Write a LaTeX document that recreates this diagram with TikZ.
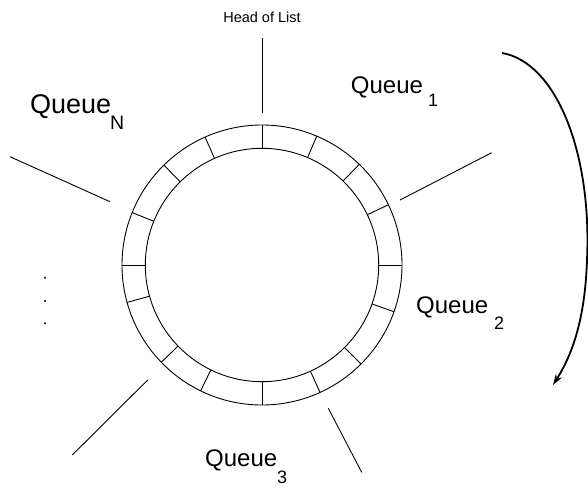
\documentclass[tikz,border=0pt]{standalone}
\usepackage{fontspec}
\setmainfont{Liberation Sans}
\usetikzlibrary{arrows.meta}
\begin{document}
\begin{tikzpicture}[x=1pt,y=-1pt,
  thin line/.style={line width=0.9pt,black},
  lbl/.style={inner sep=0pt,anchor=base west,font=\fontsize{24}{24}\selectfont},
  sublbl/.style={inner sep=0pt,anchor=base west,font=\fontsize{18}{18}\selectfont},
  headlbl/.style={inner sep=0pt,anchor=base,font=\fontsize{14.5}{14.5}\selectfont}]
\useasboundingbox (0,0) rectangle (588,487);
\coordinate (c) at (262,265);
% ring
\draw[thin line] (c) circle[radius=140pt];
\draw[thin line] (c) circle[radius=116.7pt];
\begin{scope}[shift={(c)}]
\foreach \a in {0,25.5,46,67,90,114,134.5,158,180,195.5,224,244,270,294.5,315,340.5}
  \draw[thin line] (\a:116.7pt) -- (\a:140pt);
\end{scope}
% spokes
\coordinate (t1) at (262,38);   \coordinate (t2) at (262,113);
\coordinate (ur1) at (400,200); \coordinate (ur2) at (491.7,152.7);
\coordinate (ul1) at (10,156.7);\coordinate (ul2) at (110,201.7);
\coordinate (ll1) at (147.7,380);\coordinate (ll2) at (72.3,455);
\coordinate (lr1) at (328.3,408.3);\coordinate (lr2) at (361.7,472.3);
\draw[thin line] (t1) -- (t2);
\draw[thin line] (ur1) -- (ur2);
\draw[thin line] (ul1) -- (ul2);
\draw[thin line] (ll1) -- (ll2);
\draw[thin line] (lr1) -- (lr2);
% dots
\foreach \y [count=\i] in {277.7,301,323.3}
  \fill (45,\y) circle[radius=1.1pt];
% labels
\node[headlbl] (head) at (262,22.7) {Head of List};
\node[lbl] (q1) at (350.7,93) {Queue};
\node[sublbl] (q1s) at (428,106) {1};
\node[lbl,font=\fontsize{27}{27}\selectfont] (qn) at (30,113.5) {Queue};
\node[sublbl,font=\fontsize{19.5}{19.5}\selectfont] (qns) at (110,129) {N};
\node[lbl] (q2) at (416,313.3) {Queue};
\node[sublbl] (q2s) at (494,329) {2};
\node[lbl] (q3) at (205,466.5) {Queue};
\node[sublbl] (q3s) at (277,483.5) {3};
% arrow
\coordinate (as) at (502,53);
\coordinate (ae) at (553,385);
\draw[line width=1.8pt,-{Stealth[length=11pt,width=7pt]}] (as) .. controls (555,62) and (592,150) .. (587,260) .. controls (585,320) and (572,355) .. (ae);
\end{tikzpicture}
\end{document}
